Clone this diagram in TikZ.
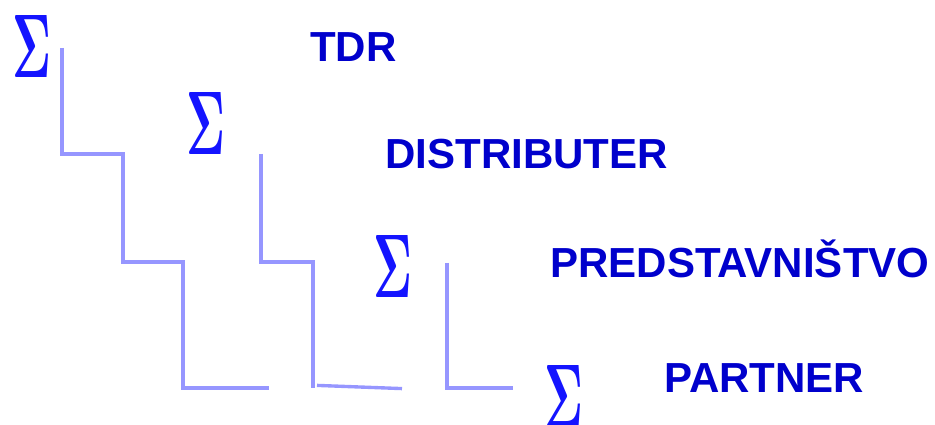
\documentclass[tikz,border=0pt]{standalone}
\usepackage[no-math]{fontspec}
\usepackage{tikz}
\usetikzlibrary{calc}
\newfontfamily\lblfont{Liberation Sans}
\definecolor{sigblue}{RGB}{20,20,255}
\definecolor{txtblue}{RGB}{0,0,204}
\definecolor{stairblue}{RGB}{150,150,255}
\newcommand{\bigsig}{\resizebox{0.975cm}{1.55cm}{$\mathbf{\Sigma}$}}

\begin{document}
\begin{tikzpicture}[
    sig/.style={inner sep=0, text=sigblue},
    lbl/.style={inner sep=0, anchor=base west, text=txtblue,
      font=\lblfont\bfseries\fontsize{29.9}{36}\selectfont},
    stair/.style={draw=stairblue, line width=2.4pt}]
      \useasboundingbox (0, 0) rectangle (23.375, 10.625);
      \node[sig] (s1) at (0.81, 9.475) {\bigsig};
      \node[sig] (s2) at (5.16, 7.54) {\bigsig};
      \node[sig] (s3) at (9.83, 3.96) {\bigsig};
      \node[sig] (s4) at (14.1, 0.72) {\bigsig};
      \node[lbl] (tdr) at (7.75, 9.08) {TDR};
      \node[lbl] (dist) at (9.625, 6.4) {DISTRIBUTER};
      \node[lbl] (pred) at (13.75, 3.675) {PREDSTAVNIŠTVO};
      \node[lbl] (part) at (16.6, 0.8) {PARTNER};
      \draw[stair] (1.55, 9.425) -- (1.55, 6.775) -- (3.075, 6.775) -- (3.075, 4.075)
        -- (4.575, 4.075) -- (4.575, 0.925) -- (6.725, 0.925);
      \draw[stair] (6.525, 6.775) -- (6.525, 4.075) -- (7.825, 4.075) -- (7.825, 0.925);
      \draw[stair] (7.925, 0.99) -- (10.05, 0.91);
      \draw[stair] (11.175, 4.05) -- (11.175, 0.925) -- (12.825, 0.925);
\end{tikzpicture}
\end{document}
